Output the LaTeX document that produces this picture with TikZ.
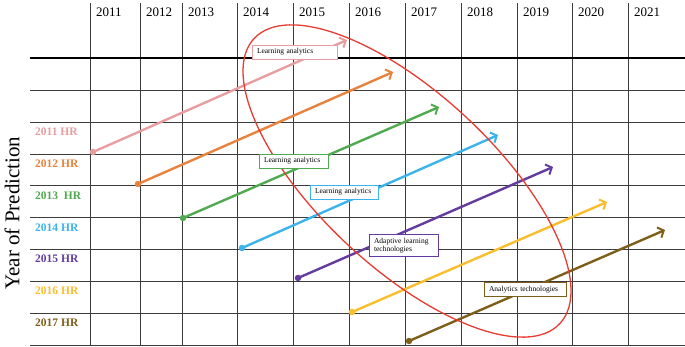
\documentclass[tikz,border=0pt]{standalone}
\usepackage{fontspec}
\setmainfont{Liberation Serif}
\usepackage{xcolor}
\usetikzlibrary{arrows.meta,positioning}
\definecolor{hrpink}{RGB}{232,158,160}
\definecolor{hrorange}{RGB}{232,130,60}
\definecolor{hrgreen}{RGB}{80,170,80}
\definecolor{hrblue}{RGB}{60,180,235}
\definecolor{hrpurple}{RGB}{100,60,160}
\definecolor{hryellow}{RGB}{250,190,45}
\definecolor{hrbrown}{RGB}{125,95,25}
\definecolor{ringred}{RGB}{232,60,50}
\definecolor{gridgray}{RGB}{60,60,60}

\begin{document}
\begin{tikzpicture}[
  x=1pt, y=-1pt,
  gridline/.style={gridgray, line width=0.8pt},
  yearlbl/.style={anchor=west, inner sep=0pt, font=\fontsize{13}{13}\selectfont},
  hrlbl/.style={anchor=west, inner sep=0pt, font=\bfseries\fontsize{11.5}{12}\selectfont},
  dot/.style={circle, fill, inner sep=0pt, minimum size=6.5pt},
  arr/.style={-{Straight Barb[length=5pt,width=11pt,line width=2pt]}, line width=2.4pt},
  tag/.style={draw, fill=white, line width=1pt, align=left, inner xsep=5pt, inner ysep=3pt, minimum height=14pt, font=\fontsize{7.5}{8.5}\selectfont}
]
\useasboundingbox (0,0) rectangle (685,346);
\foreach \gx in {90,140,182,237,293,349,405,461,517,572,628}
  \draw[gridline] (\gx,3) -- (\gx,346);
\foreach \gy in {90,122,154,185,217,249,281,313,345}
  \draw[gridline] (30,\gy) -- (685,\gy);
\draw[black, line width=1.1pt] (30,58) -- (685,58);
\foreach \gx/\yr in {90/2011,140/2012,182/2013,237/2014,293/2015,349/2016,405/2017,461/2018,517/2019,572/2020,628/2021}
  \node[yearlbl] (y\yr) at (\gx+6,12) {\yr};

\node[rotate=90, font=\fontsize{21}{21}\selectfont] (ylab) at (12,213) {Year of Prediction};
\node[hrlbl, hrpink] (r2011) at (35,132) {2011 HR};
\node[hrlbl, hrorange] (r2012) at (35,164) {2012 HR};
\node[hrlbl, hrgreen] (r2013) at (35,196) {2013 \ HR};
\node[hrlbl, hrblue] (r2014) at (35,228) {2014 HR};
\node[hrlbl, hrpurple] (r2015) at (35,259) {2015 HR};
\node[hrlbl, hryellow] (r2016) at (35,291) {2016 HR};
\node[hrlbl, hrbrown] (r2017) at (35,323) {2017 HR};

\node[dot, hrpink] (s2011) at (93,152) {};
\node[dot, hrorange] (s2012) at (138,184) {};
\node[dot, hrgreen] (s2013) at (183,218) {};
\node[dot, hrblue] (s2014) at (242,248) {};
\node[dot, hrpurple] (s2015) at (298,278) {};
\node[dot, hryellow] (s2016) at (352,312) {};
\node[dot, hrbrown] (s2017) at (409,341) {};
\coordinate (e2011) at (347,40);
\coordinate (e2012) at (393,72);
\coordinate (e2013) at (439,107);
\coordinate (e2014) at (498,135);
\coordinate (e2015) at (553,167);
\coordinate (e2016) at (607,202);
\coordinate (e2017) at (665,230);
\draw[arr, hrpink] (s2011.center) -- (e2011);
\draw[arr, hrorange] (s2012.center) -- (e2012);
\draw[arr, hrgreen] (s2013.center) -- (e2013);
\draw[arr, hrblue] (s2014.center) -- (e2014);
\draw[arr, hrpurple] (s2015.center) -- (e2015);
\draw[arr, hryellow] (s2016.center) -- (e2016);
\draw[arr, hrbrown] (s2017.center) -- (e2017);

\draw[ringred, line width=1.3pt, rotate around={-43:(407,181)}] (407,181) ellipse [x radius=209, y radius=87];

\node[tag, draw=hrpink, text width=75pt] (la2011) at (294.5,52) {Learning analytics};
\node[tag, draw=hrgreen, text width=59pt] (la2013) at (293.5,161) {Learning analytics};
\node[tag, draw=hrblue, text width=58pt] (la2014) at (344,192) {Learning analytics};
\node[tag, draw=hrpurple, text width=59pt] (alt2015) at (403.5,245.5) {Adaptive learning\\technologies};
\node[tag, draw=hrbrown, text width=72pt] (at2017) at (525,289.5) {Analytics technologies};
\end{tikzpicture}
\end{document}
